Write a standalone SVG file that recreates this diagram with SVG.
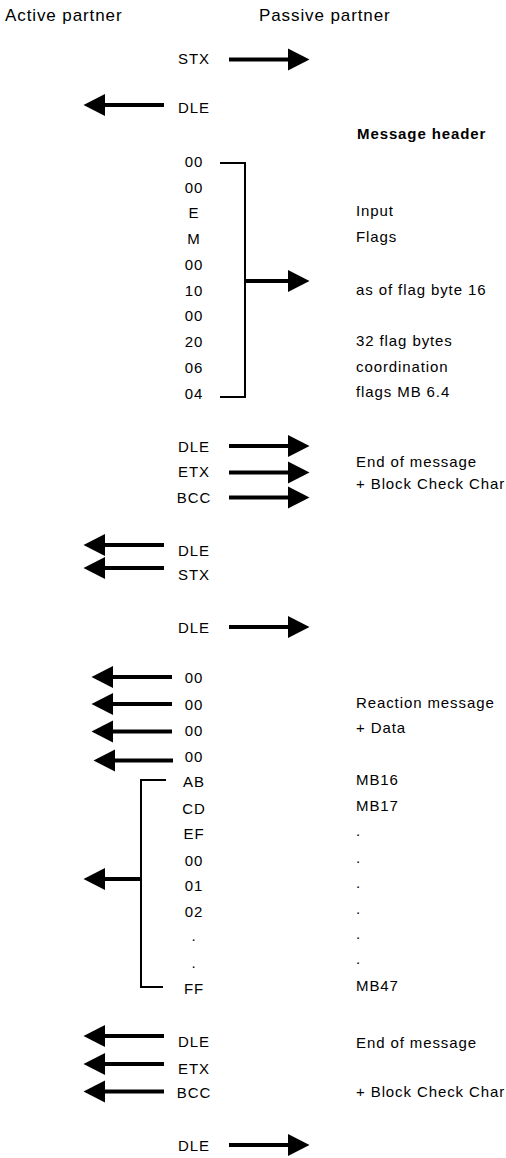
<svg xmlns="http://www.w3.org/2000/svg" width="506" height="1158" viewBox="0 0 506 1158">
<style>
text{font-family:"Liberation Sans",Arial,sans-serif;font-size:15px;letter-spacing:0.9px;fill:#000}
.h{font-size:17px}
.b{font-weight:bold}
.c{text-anchor:middle}
.a{stroke:#000;stroke-width:3.8;fill:none;marker-end:url(#ah)}
.br{stroke:#000;stroke-width:2;fill:none}
</style>
<defs>
<marker id="ah" markerUnits="userSpaceOnUse" markerWidth="24" markerHeight="24" viewBox="0 -12 24 24" refX="0" refY="0" orient="auto">
<path d="M0,-11 L21.5,0 L0,11 z" fill="#000"/>
</marker>
</defs>
<rect width="506" height="1158" fill="#fff"/>
<g id="headers">
<text class="h" x="5" y="21">Active partner</text>
<text class="h" x="259" y="21">Passive partner</text>
<text class="b" x="357" y="139">Message header</text>
</g>
<g id="bytes">
<text class="c" x="194" y="63.5">STX</text>
<text class="c" x="194" y="113">DLE</text>
<text class="c" x="194" y="167">00</text>
<text class="c" x="194" y="193">00</text>
<text class="c" x="194" y="218">E</text>
<text class="c" x="194" y="244">M</text>
<text class="c" x="194" y="270">00</text>
<text class="c" x="194" y="296">10</text>
<text class="c" x="194" y="321">00</text>
<text class="c" x="194" y="347">20</text>
<text class="c" x="194" y="373">06</text>
<text class="c" x="194" y="399">04</text>
<text class="c" x="194" y="451.5">DLE</text>
<text class="c" x="194" y="477">ETX</text>
<text class="c" x="194" y="503">BCC</text>
<text class="c" x="194" y="555.5">DLE</text>
<text class="c" x="194" y="579.5">STX</text>
<text class="c" x="194" y="632.8">DLE</text>
<text class="c" x="194" y="682.8">00</text>
<text class="c" x="194" y="709.8">00</text>
<text class="c" x="194" y="735.5">00</text>
<text class="c" x="194" y="762">00</text>
<text class="c" x="194" y="787">AB</text>
<text class="c" x="194" y="813.8">CD</text>
<text class="c" x="194" y="838.8">EF</text>
<text class="c" x="194" y="866">00</text>
<text class="c" x="194" y="890.5">01</text>
<text class="c" x="194" y="917">02</text>
<text class="c" x="194" y="941">.</text>
<text class="c" x="194" y="967.5">.</text>
<text class="c" x="194" y="993.8">FF</text>
<text class="c" x="194" y="1047">DLE</text>
<text class="c" x="194" y="1073.8">ETX</text>
<text class="c" x="194" y="1098">BCC</text>
<text class="c" x="194" y="1150.5">DLE</text>
</g>
<g id="notes">
<text x="356" y="216">Input</text>
<text x="356" y="242">Flags</text>
<text x="356" y="294.5">as of flag byte 16</text>
<text x="356" y="346">32 flag bytes</text>
<text x="356" y="371.5">coordination</text>
<text x="356" y="397">flags MB 6.4</text>
<text x="356" y="467">End of message</text>
<text x="356" y="488.5">+ Block Check Char</text>
<text x="356" y="708">Reaction message</text>
<text x="356" y="733">+ Data</text>
<text x="356" y="784.8">MB16</text>
<text x="356" y="811.3">MB17</text>
<text x="356" y="836">.</text>
<text x="356" y="862.5">.</text>
<text x="356" y="888">.</text>
<text x="356" y="914">.</text>
<text x="356" y="939">.</text>
<text x="356" y="964">.</text>
<text x="356" y="991.3">MB47</text>
<text x="356" y="1048">End of message</text>
<text x="356" y="1097">+ Block Check Char</text>
</g>
<g id="connectors">
<path class="a" d="M229,59.5 H288"/>
<path class="a" d="M164,105 H105"/>
<path class="br" d="M220,163 H245 V397 H220"/>
<path class="a" d="M245,281 H288"/>
<path class="a" d="M229,446 H288"/>
<path class="a" d="M229,472.5 H288"/>
<path class="a" d="M229,497.5 H288"/>
<path class="a" d="M164,545 H105"/>
<path class="a" d="M164,568 H105"/>
<path class="a" d="M229,627 H288"/>
<path class="a" d="M172,677 H113"/>
<path class="a" d="M172,704 H113"/>
<path class="a" d="M172,731.5 H113"/>
<path class="a" d="M173,760.5 H115"/>
<path class="br" d="M166,780 H141 V987 H163"/>
<path class="a" d="M141,879 H105"/>
<path class="a" d="M164,1036 H105"/>
<path class="a" d="M164,1064 H105"/>
<path class="a" d="M164,1091.5 H105"/>
<path class="a" d="M229,1145 H288"/>
</g>
</svg>
